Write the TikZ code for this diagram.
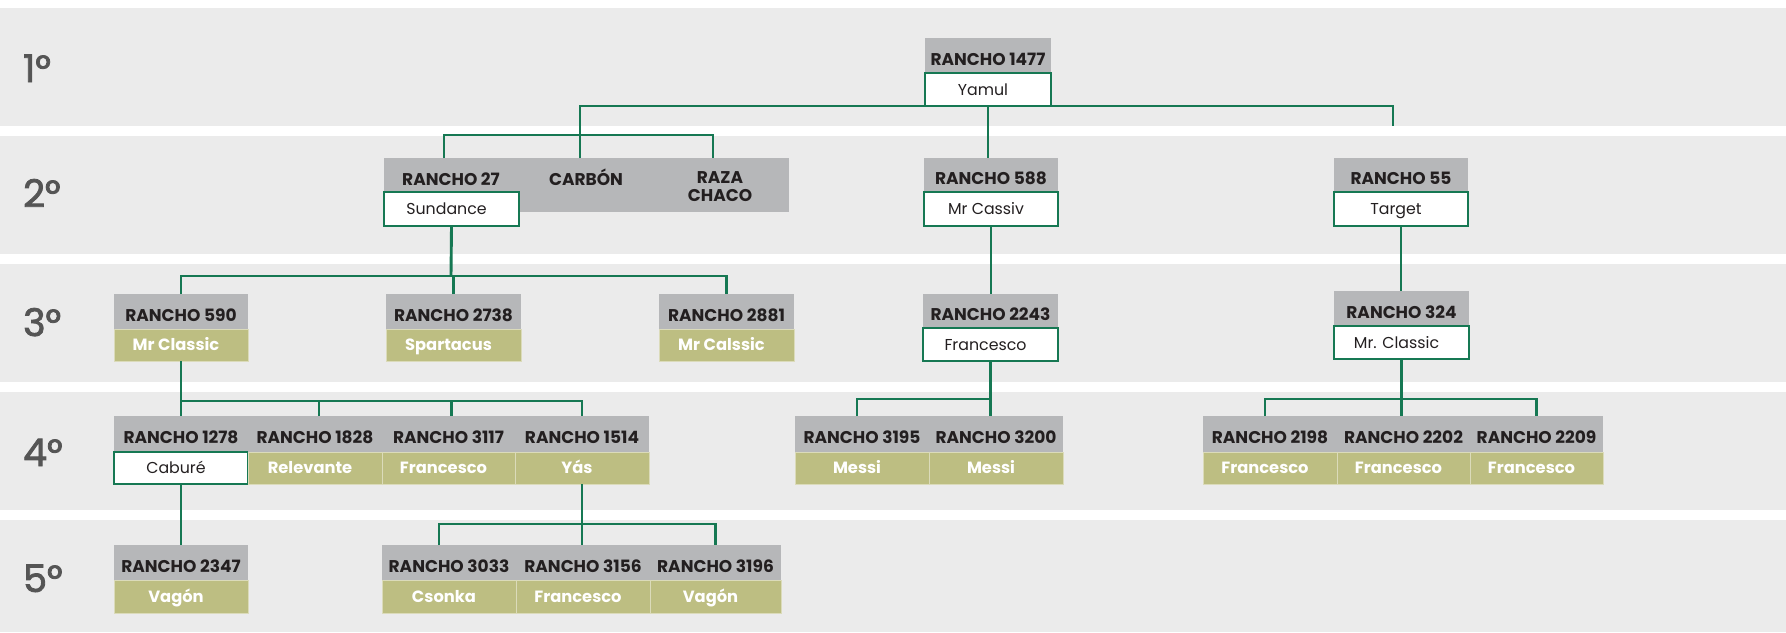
\documentclass[tikz,border=0pt]{standalone}
\usepackage{fontspec}
\setmainfont{Poppins}
\newfontfamily\lvlfam{Poppins}[FakeBold=2.2]
\definecolor{bandgray}{HTML}{EBEBEB}
\definecolor{hdrgray}{HTML}{B6B7B9}
\definecolor{olivec}{HTML}{BDBE82}
\definecolor{lgreen}{HTML}{167853}
\definecolor{darktext}{HTML}{231F20}
\definecolor{lvlgray}{HTML}{555555}
\newcommand\hdrfont{\fontsize{17}{18}\bfseries\selectfont}
\newcommand\olvfont{\fontsize{16.3}{18}\bfseries\selectfont}
\newcommand\boxfont{\fontsize{15.8}{18}\selectfont}
\newcommand\lvlfont{\fontsize{38}{38}\lvlfam\selectfont}
\begin{document}
\begin{tikzpicture}[x=1pt,y=-1pt,
  cell/.style={anchor=north west, inner sep=0pt, outer sep=0pt, minimum width=134pt},
  hdr/.style={cell, fill=hdrgray, text=darktext, font=\hdrfont, text height=19.5pt, text depth=0pt, minimum height=35pt},
  wbox/.style={cell, fill=white, draw=lgreen, line width=2.9pt, text=darktext, font=\boxfont, text height=11.3pt, text depth=0pt, minimum height=33pt, execute at end node={\kern10pt}},
  obox/.style={cell, fill=olivec, draw=olivec!55!white, line width=0.7pt, text=white, font=\olvfont, text height=11.6pt, text depth=0pt, minimum height=32pt, execute at end node={\kern10pt}},
  htext/.style={inner sep=0pt, text=darktext, font=\hdrfont, text height=12pt, text depth=0pt},
  lvl/.style={anchor=base west, inner sep=0pt, text=lvlgray, font=\lvlfont},
  conn/.style={draw=lgreen, line width=2.9pt}
]
\useasboundingbox (0,0) rectangle (1786,632);
% bands
\fill[bandgray] (0,8) rectangle (1786,126);
\fill[bandgray] (0,136) rectangle (1786,254);
\fill[bandgray] (0,264) rectangle (1786,382);
\fill[bandgray] (0,392) rectangle (1786,510);
\fill[bandgray] (0,520) rectangle (1786,632);
% level labels
\node[lvl] (l1) at (23,82) {1°};
\node[lvl] (l2) at (23,207) {2°};
\node[lvl] (l3) at (23,336) {3°};
\node[lvl] (l4) at (23,466) {4°};
\node[lvl] (l5) at (23,592) {5°};

% level 1
\node[hdr, minimum width=126pt] (r1477) at (925,38) {RANCHO 1477};
\node[wbox, minimum width=126pt] (yamul) at (925,73) {Yamul};

% level 2
\node[cell, fill=hdrgray, minimum width=405pt, minimum height=54pt] (g2) at (384,158) {};
\node[htext] (r27) at (451,179) {RANCHO 27};
\node[htext] (carbon) at (586,179) {CARBÓN};
\node[inner sep=0pt, text=darktext, font=\hdrfont, align=center] (raza) at (720,187) {RAZA\\CHACO};
\node[wbox, minimum width=135pt, minimum height=34pt] (sund) at (384,192) {Sundance};
\node[hdr, minimum height=34pt] (r588) at (924,158) {RANCHO 588};
\node[wbox, minimum height=34pt] (cassiv) at (924,192) {Mr Cassiv};
\node[hdr, minimum height=34pt] (r55) at (1334,158) {RANCHO 55};
\node[wbox, minimum height=34pt] (target) at (1334,192) {Target};

% level 3
\node[hdr] (r590) at (114,294) {RANCHO 590};
\node[obox] (mrclassic) at (114,329) {Mr Classic};
\node[hdr, minimum width=135pt] (r2738) at (386,294) {RANCHO 2738};
\node[obox, minimum width=135pt] (spartacus) at (386,329) {Spartacus};
\node[hdr, minimum width=135pt] (r2881) at (659,294) {RANCHO 2881};
\node[obox, minimum width=135pt] (mrcalssic) at (659,329) {Mr Calssic};
\node[hdr, minimum width=135pt, minimum height=34pt] (r2243) at (923,294) {RANCHO 2243};
\node[wbox, minimum width=135pt] (fr2243) at (923,328) {Francesco};
\node[hdr, minimum width=135pt] (r324) at (1334,291) {RANCHO 324};
\node[wbox, minimum width=135pt] (mr324) at (1334,326) {Mr. Classic};

% level 4
\node[hdr, minimum height=36pt] (r1278) at (114,416) {RANCHO 1278};
\node[wbox, minimum height=32pt] (cabure) at (114,452) {Caburé};
\node[hdr, minimum height=36pt] (r1828) at (248,416) {RANCHO 1828};
\node[obox] (relev) at (248,452) {Relevante};
\node[hdr, minimum height=36pt, minimum width=133pt] (r3117) at (382,416) {RANCHO 3117};
\node[obox, minimum width=133pt] (fr3117) at (382,452) {Francesco};
\node[hdr, minimum height=36pt] (r1514) at (515,416) {RANCHO 1514};
\node[obox] (yas) at (515,452) {Yás};

\node[hdr, minimum height=36pt] (r3195) at (795,416) {RANCHO 3195};
\node[obox] (messi1) at (795,452) {Messi};
\node[hdr, minimum height=36pt] (r3200) at (929,416) {RANCHO 3200};
\node[obox] (messi2) at (929,452) {Messi};

\node[hdr, minimum height=36pt] (r2198) at (1203,416) {RANCHO 2198};
\node[obox] (fr2198) at (1203,452) {Francesco};
\node[hdr, minimum height=36pt, minimum width=133pt] (r2202) at (1337,416) {RANCHO 2202};
\node[obox, minimum width=133pt] (fr2202) at (1337,452) {Francesco};
\node[hdr, minimum height=36pt, minimum width=133pt] (r2209) at (1470,416) {RANCHO 2209};
\node[obox, minimum width=133pt] (fr2209) at (1470,452) {Francesco};

% level 5
\node[hdr] (r2347) at (114,545) {RANCHO 2347};
\node[obox, minimum height=33pt] (vagon1) at (114,580) {Vagón};
\node[hdr] (r3033) at (382,545) {RANCHO 3033};
\node[obox, minimum height=33pt] (csonka) at (382,580) {Csonka};
\node[hdr] (r3156) at (516,545) {RANCHO 3156};
\node[obox, minimum height=33pt] (fr3156) at (516,580) {Francesco};
\node[hdr, minimum width=131pt] (r3196) at (650,545) {RANCHO 3196};
\node[obox, minimum width=131pt, minimum height=33pt] (vagon2) at (650,580) {Vagón};

% bus coordinates
\coordinate (stub55) at (1393,126);
\coordinate (bus1) at (580,135);
\coordinate (bus3) at (451,276);
\coordinate (bus4a) at (181,401);
\coordinate (bus4b) at (990,399);
\coordinate (bus4c) at (1401,399);
\coordinate (bus5) at (580,524);

% connectors level 1 -> 2
\draw[conn] ([xshift=-6pt]carbon |- g2.north) |- (yamul.south) -| (stub55);
\draw[conn] (yamul.south) -- (yamul.south |- r588.north);
\draw[conn] ([xshift=-7pt]r27 |- g2.north) |- (bus1) -| ([xshift=-7pt]raza |- g2.north);
% level 2 -> 3
\draw[conn] (sund.south) -- (bus3);
\draw[conn] (r590.north) |- (bus3) -| (r2881.north);
\draw[conn] (r2738.north) -- (r2738.north |- bus3);
\draw[conn] (cassiv.south) -- (cassiv.south |- r2243.north);
\draw[conn] (target.south) -- (target.south |- r324.north);
% level 3 -> 4
\draw[conn] (mrclassic.south) -- (r1278.north);
\draw[conn] (r1278.north) |- (bus4a) -| (r1514.north);
\draw[conn] ([xshift=4pt]r1828.north) -- ([xshift=4pt]r1828.north |- bus4a);
\draw[conn] ([xshift=3pt]r3117.north) -- ([xshift=3pt]r3117.north |- bus4a);
\draw[conn] (fr2243.south) -- (fr2243.south |- r3200.north);
\draw[conn] ([xshift=-5pt]r3195.north) |- (bus4b);
\draw[conn] (mr324.south) -- (mr324.south |- r2202.north);
\draw[conn] ([xshift=-5pt]r2198.north) |- (bus4c) -| (r2209.north);
% level 4 -> 5
\draw[conn] (cabure.south) -- (r2347.north);
\draw[conn] (yas.south) -- (yas.south |- r3156.north);
\draw[conn] ([xshift=-10pt]r3033.north) |- (bus5) -| (r3196.north);
\end{tikzpicture}
\end{document}
